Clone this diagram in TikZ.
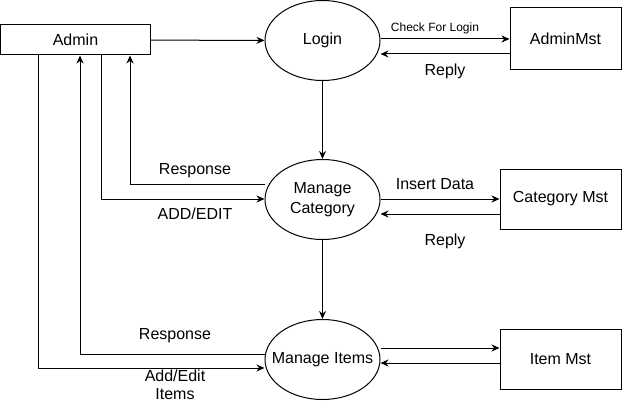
\documentclass[tikz,border=0pt]{standalone}
\usepackage{fontspec}
\setmainfont{Liberation Sans}
\usetikzlibrary{shapes.geometric,arrows.meta,calc}
\begin{document}
\begin{tikzpicture}[x=1pt,y=-1pt,
  every node/.style={font=\fontsize{16}{20}\selectfont},
  proc/.style={draw,ellipse,minimum width=115pt,minimum height=80pt,inner sep=0pt,line width=1pt,align=center},
  store/.style={draw,rectangle,inner sep=0pt,line width=1pt},
  flow/.style={-{Stealth[length=8pt,width=7pt]},line width=1pt},
  lbl/.style={inner sep=0pt,align=center,text height=11.5pt,text depth=1pt},
  small/.style={font=\fontsize{12}{14}\selectfont,text height=9pt}]
\useasboundingbox (0,0) rectangle (631,404);

\node[store,minimum width=150pt,minimum height=30pt] (admin) at (75.5,40) {Admin};
\node[proc] (login) at (322.5,40.5) {Login};
\node[store,minimum width=111pt,minimum height=61pt] (amst) at (565.5,38.5) {AdminMst};
\node[proc] (mc) at (322.5,199.5) {Manage\\Category};
\node[store,minimum width=121pt,minimum height=60pt] (cmst) at (560.5,199) {Category Mst};
\node[proc,inner xsep=-14pt] (mi) at (322.5,359.5) {Manage Items};
\node[store,minimum width=121pt,minimum height=60pt] (imst) at (560.5,359) {Item Mst};

% top row
\draw[flow] (admin) -- (login);
\draw[flow] (login.east |- 0,39) -- (amst.west |- 0,39);
\draw[flow] (amst.west |- 0,54) -- (login.east |- 0,54);
\node[lbl,small] (chk) at (435,28) {Check For Login};
\node[lbl] (rep1) at (445,70) {Reply};

% middle row
\draw[flow] (login.south) -- (mc.north);
\draw[flow] (mc.east |- 0,199) -- (cmst.west |- 0,199);
\draw[flow] (cmst.west |- 0,214) -- (mc.east |- 0,214);
\node[lbl] (ins) at (435,184) {Insert Data};
\node[lbl] (rep2) at (445,240) {Reply};

% bottom row
\draw[flow] (mc.south) -- (mi.north);
\draw[flow] (mi.east |- 0,348) -- (imst.west |- 0,348);
\draw[flow] (imst.west |- 0,363) -- (mi.east |- 0,363);

% left side
\draw[flow] (mc.west |- 0,184) -| (admin.south -| 130,0);
\node[lbl] (resp1) at (195,169) {Response};
\draw[flow] (admin.south -| 101,0) |- (mc.west |- 0,199);
\node[lbl] (add1) at (195,214) {ADD/EDIT};
\draw[flow] (mi.west |- 0,354) -| (admin.south -| 80,0);
\node[lbl] (resp2) at (175,334) {Response};
\draw[flow] (admin.south -| 38,0) |- (mi.west |- 0,368);
\node[inner sep=0pt,align=center,font=\fontsize{16}{18}\selectfont] (add2) at (175,385) {Add/Edit\\Items};
\end{tikzpicture}
\end{document}
